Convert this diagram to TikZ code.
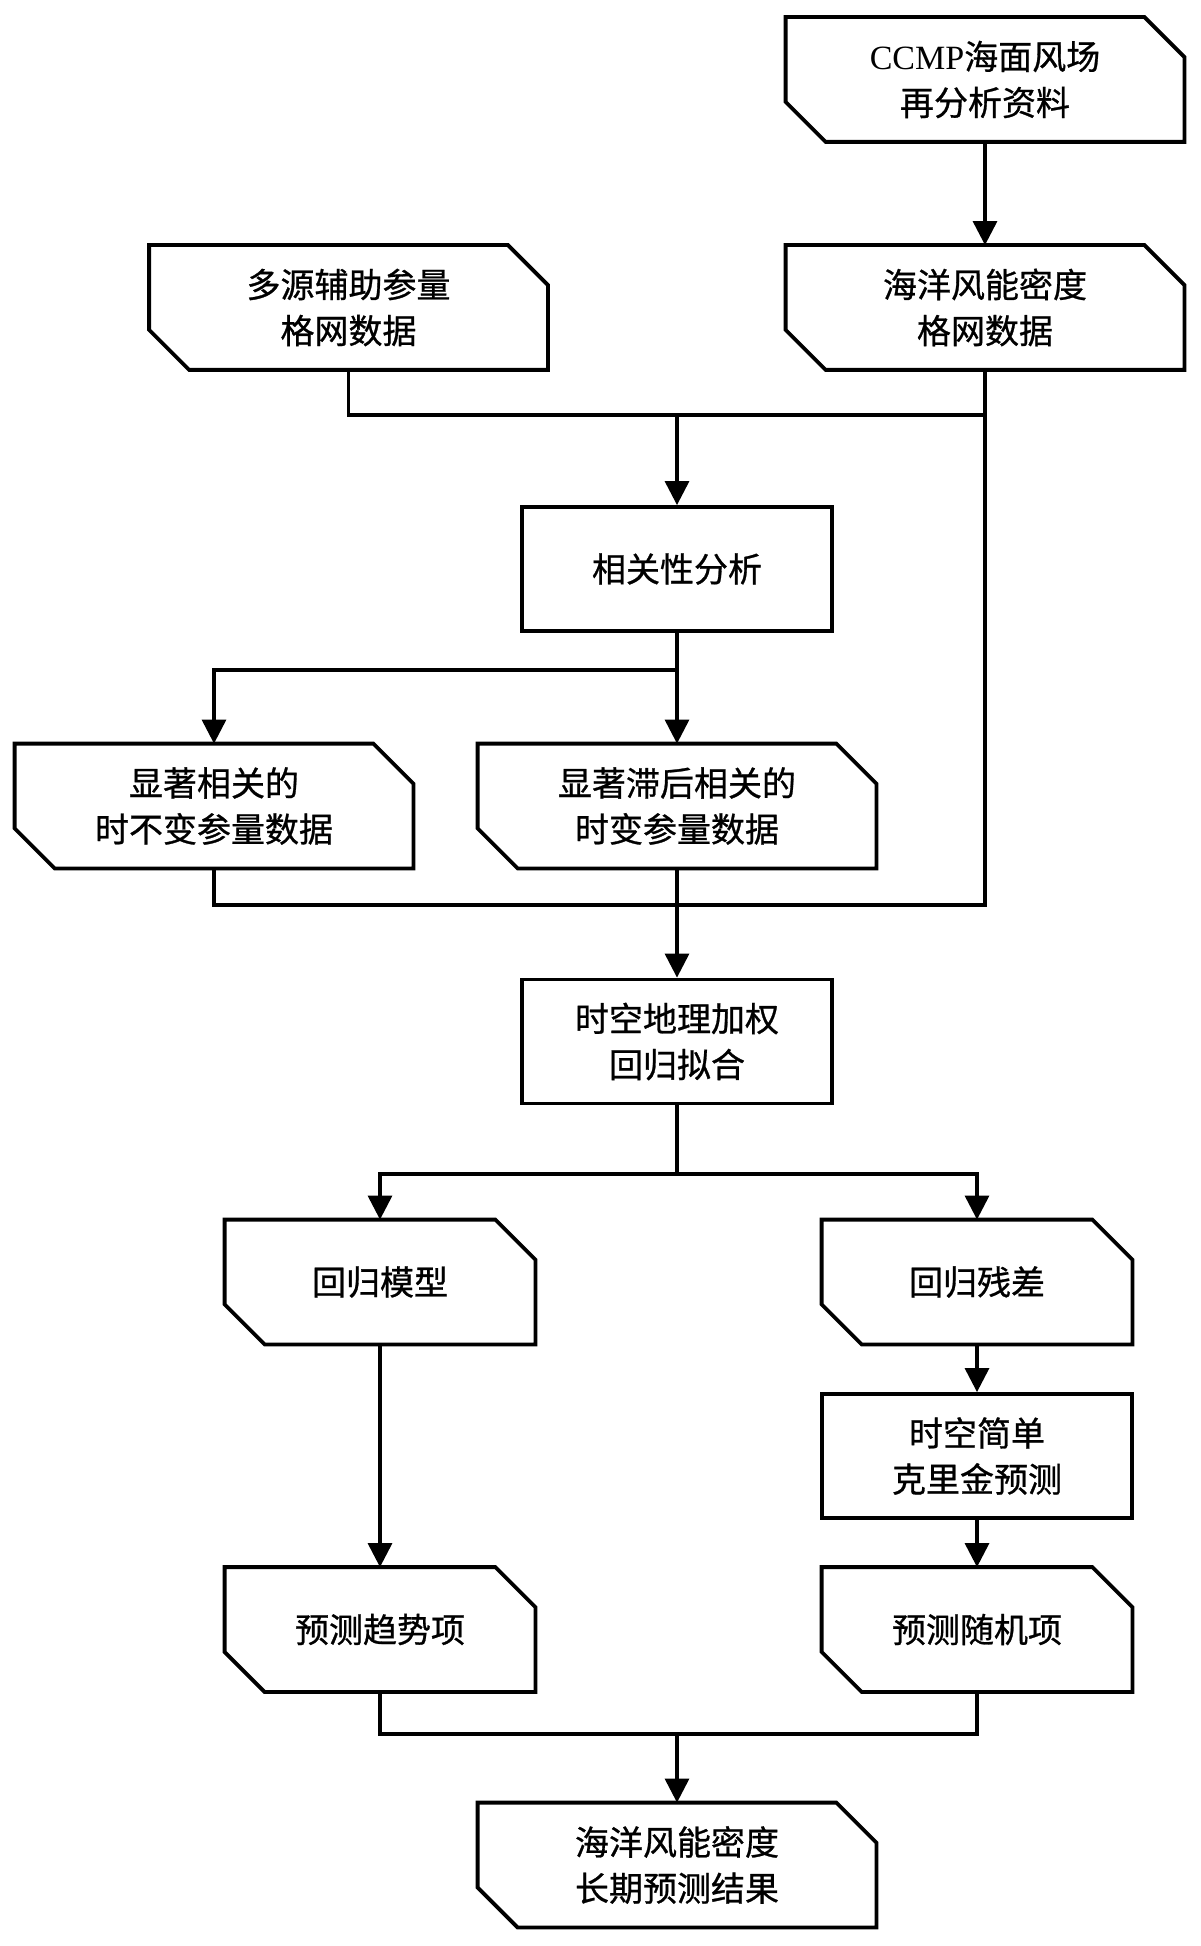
\documentclass[tikz,border=0pt]{standalone}
\usepackage{fontspec}
\setmainfont{Liberation Serif}
\newfontfamily\cjk[FakeBold=0.8]{Noto Sans CJK SC}
\usetikzlibrary{arrows.meta}
\tikzset{
  box/.style={inner sep=0pt, align=center, font=\cjk\fontsize{17pt}{23pt}\selectfont, minimum height=62pt},
  wide/.style={box, minimum width=199pt},
  narrow/.style={box, minimum width=155pt},
  rectbox/.style={narrow, draw, line width=1.9pt},
  outline/.style={line width=1.9pt, line join=miter},
  conn/.style={line width=1.6pt, line join=miter},
  arr/.style={conn, -{Triangle[length=12pt,width=12pt]}},
}
\newcommand\mycutbox[1]{\draw[outline] (#1.north west) -- ([xshift=-20pt]#1.north east) -- ([yshift=-20pt]#1.north east) -- (#1.south east) -- ([xshift=20pt]#1.south west) -- ([yshift=20pt]#1.south west) -- cycle;}
\begin{document}
\begin{tikzpicture}[x=0.5pt,y=-0.5pt]
\useasboundingbox (0,0) rectangle (1200,1946);
\node[wide] (ccmp) at (985,79.5) {{\rmfamily CCMP}海面风场\\再分析资料};
\node[wide] (wind) at (985,307.5) {海洋风能密度\\格网数据};
\node[wide] (aux) at (348.5,307.5) {多源辅助参量\\格网数据};
\node[rectbox] (corr) at (677,569) {相关性分析};
\node[wide] (sig1) at (214,806) {显著相关的\\时不变参量数据};
\node[wide] (sig2) at (677,806) {显著滞后相关的\\时变参量数据};
\node[rectbox] (gtwr) at (677,1041.5) {时空地理加权\\回归拟合};
\node[narrow] (regm) at (380,1282) {回归模型};
\node[narrow] (resid) at (977,1282) {回归残差};
\node[rectbox] (krig) at (977,1456) {时空简单\\克里金预测};
\node[narrow] (trend) at (380,1629.5) {预测趋势项};
\node[narrow] (rand) at (977,1629.5) {预测随机项};
\node[wide] (final) at (677,1865) {海洋风能密度\\长期预测结果};
\foreach \n in {ccmp,wind,aux,sig1,sig2,regm,resid,trend,rand,final}{\mycutbox{\n}}
\coordinate (j1) at (677,415);
\coordinate (j2) at (677,905);
\coordinate (j3) at (677,670);
\coordinate (j4) at (677,1174);
\coordinate (j5) at (677,1734);
\draw[arr] (ccmp) -- (wind);
\draw[conn] (aux.south) |- (wind.south |- j1);
\draw[conn] (wind.south) -- (wind.south |- j2) -- (sig1.south |- j2) -- (sig1.south);
\draw[arr] (j1) -- (corr);
\draw[arr] (corr) -- (sig2);
\draw[arr] (j3) -| (sig1.north);
\draw[arr] (sig2) -- (gtwr);
\draw[conn] (gtwr) -- (j4);
\draw[arr] (j4) -| (regm.north);
\draw[arr] (j4) -| (resid.north);
\draw[arr] (regm) -- (trend);
\draw[arr] (resid) -- (krig);
\draw[arr] (krig) -- (rand);
\draw[conn] (trend.south) |- (j5) -| (rand.south);
\draw[arr] (j5) -- (final);
\end{tikzpicture}
\end{document}
